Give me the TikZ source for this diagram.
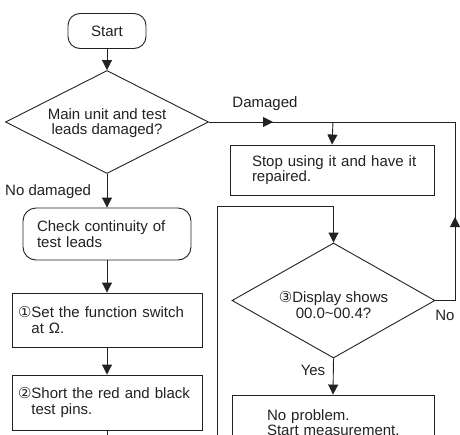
\documentclass[tikz,border=0pt]{standalone}
\usepackage{fontspec}
\setmainfont{Liberation Sans}
\newfontfamily\dvfont{DejaVu Sans}
\usetikzlibrary{shapes.geometric,arrows.meta}
\definecolor{lc}{HTML}{222222}
\newcommand{\cnum}[1]{{\dvfont\fontsize{15}{15}\selectfont #1}}
\begin{document}
\begin{tikzpicture}[x=1pt,y=-1pt,
  line/.style={draw=lc, line width=0.9pt},
  arr/.style={line, -{Triangle[length=10pt,width=10pt]}},
  txt/.style={font=\fontsize{15}{15.5}\selectfont, text=lc},
  rbox/.style={txt, draw=lc, line width=0.9pt, rounded corners=13pt, align=left, inner ysep=0pt},
  sbox/.style={txt, draw=lc, line width=0.9pt, align=left, inner ysep=0pt},
  dia/.style={diamond, draw=lc, line width=0.9pt, inner sep=0pt},
  lbl/.style={txt, inner sep=0pt}
]
\useasboundingbox (0,0) rectangle (460,434);
\clip (0,0) rectangle (460,434);
\fill[white] (0,0) rectangle (460,434);

% left column
\node[rbox, rounded corners=12pt, align=center, minimum width=78pt, minimum height=35pt, inner xsep=0pt] (start) at (107,31) {Start};
\node[dia, minimum width=203pt, minimum height=103pt] (d1) at (107,122) {};
\node[txt, align=center, inner sep=0pt] (d1t) at (107,123) {Main unit and test\\leads damaged?};
\node[rbox, minimum width=168pt, minimum height=52pt, text width=140pt, inner xsep=14pt] (check) at (107,234) {\mbox{Check continuity of}\\test leads};
\node[sbox, minimum width=190pt, minimum height=54pt, text width=178pt, inner xsep=6pt] (b1) at (107,320) {\mbox{\cnum{①}Set the function switch}\\\hphantom{\cnum{①}}at Ω.};
\node[sbox, minimum width=190pt, minimum height=55pt, text width=178pt, inner xsep=6pt] (b2) at (107,402.5) {\mbox{\cnum{②}Short the red and black}\\\hphantom{\cnum{②}}test pins.};
\coordinate (b2end) at (107,450);

\draw[arr] (start) -- (d1.north);
\draw[arr] (d1.south) -- (check.north);
\draw[arr] (check.south) -- (b1.north);
\draw[arr] (b1.south) -- (b2.north);
\draw[line] (b2.south) -- (b2end);
\node[lbl, anchor=west] (nodmg) at (5,192) {No damaged};

% right column
\node[sbox, minimum width=204pt, minimum height=50pt, text width=160pt, inner xsep=22pt] (stop) at (332,170) {\mbox{Stop using it and have it}\\repaired.};
\node[dia, minimum width=203pt, minimum height=115pt] (d2) at (333.5,300.5) {};
\node[txt, align=center, inner sep=0pt] (d2t) at (333.5,305) {\cnum{③}Display shows\\00.0\textasciitilde 00.4?};
\node[sbox, minimum width=202pt, minimum height=55pt, text width=132pt, inner xsep=35pt] (ok) at (333,422.5) {No problem.\\\mbox{Start measurement.}};

\coordinate (rt) at (455,122);
\coordinate (dmgtip) at (273,122);
\coordinate (jn) at (333,122);
\coordinate (uptip) at (455,217);
\coordinate (lt) at (217,206);
\coordinate (lb) at (217,450);

\draw[line] (d2.east) -- (d2.east -| rt) -- (rt) -- (d1.east);
\draw[arr] (d1.east) -- (dmgtip);
\draw[arr] (d2.east -| rt) -- (uptip);
\draw[arr] (jn) -- (stop.north);
\draw[arr] (lb) -- (lt) -- (lt -| d2.north) -- (d2.north);
\draw[arr] (d2.south) -- (ok.north);

\node[lbl] (dmg) at (265,104) {Damaged};
\node[lbl] (no) at (445,315) {No};
\node[lbl] (yes) at (313,370) {Yes};
\end{tikzpicture}
\end{document}
